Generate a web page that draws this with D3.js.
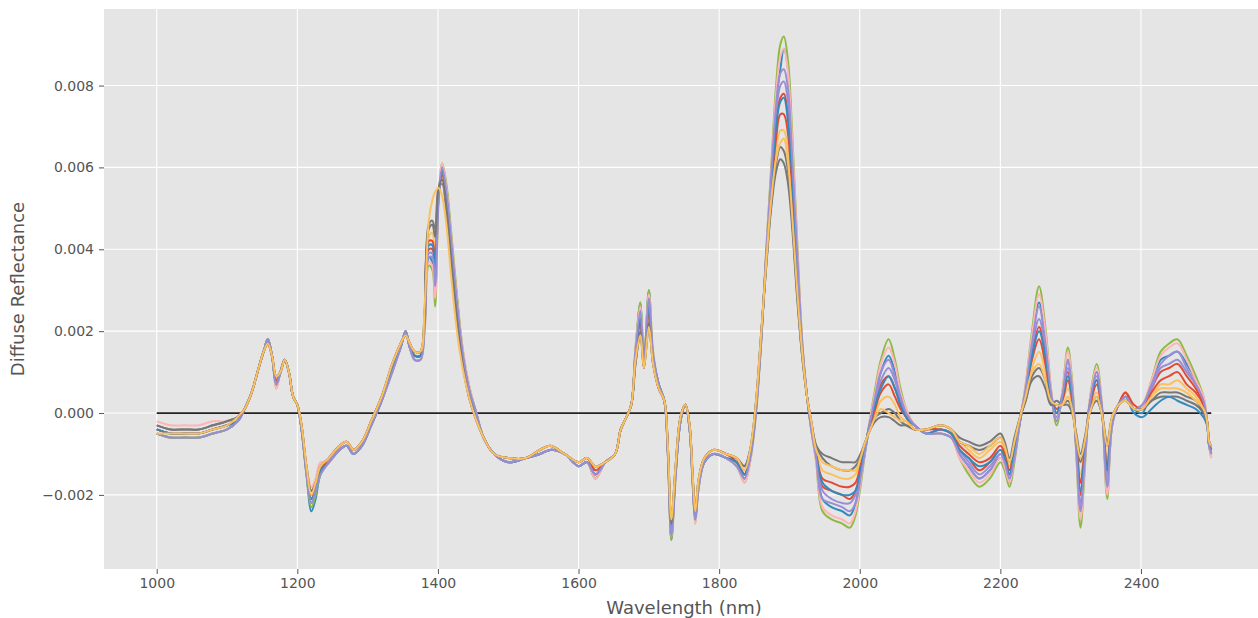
<!DOCTYPE html>
<html><head><meta charset="utf-8">
<script src="https://cdn.jsdelivr.net/npm/d3@7"></script>
<style>body{margin:0;background:#fff;overflow:hidden}</style>
</head><body>
<svg id="chart" width="1258" height="618"></svg>
<script>
// wavelength grid (nm)
const wavelengths = [
1000,1020,1040,1060,1080,1100,1115,1125,1135,1145,
1152,1158,1164,1170,1176,1182,1188,1194,1200,1206,
1213,1220,1226,1233,1245,1260,1270,1280,1292,1305,
1320,1335,1347,1354,1360,1367,1375,1381,1387,1392,
1396,1401,1406,1412,1419,1427,1435,1444,1453,1465,
1480,1500,1525,1545,1560,1580,1600,1612,1624,1638,
1652,1660,1668,1675,1681,1688,1693,1700,1706,1714,
1722,1727,1732,1738,1745,1752,1758,1762,1766,1771,
1779,1792,1810,1825,1836,1844,1852,1860,1867,1874,
1881,1887,1892,1898,1904,1911,1918,1925,1931,1938,
1947,1960,1975,1986,1994,2001,2008,2015,2022,2030,
2041,2050,2058,2066,2078,2095,2115,2130,2142,2155,
2170,2185,2200,2206,2213,2220,2228,2236,2245,2255,
2264,2272,2280,2288,2296,2302,2308,2314,2320,2327,
2337,2344,2352,2359,2368,2378,2390,2402,2415,2428,
2440,2452,2465,2478,2489,2494,2497,2500];

// spectra, in units of 1e-4 (diffuse reflectance)
const s0 = [-4,-5,-5,-5,-4,-3,-2,1,5,11, 15,18,14,7,10,13,10,4,2,-4, -14,-21,-19,-14,-12,-9,-8,-10,-8,-3, 3,11,16,20,16,14,14,22,40,40, 35,53,59,53,40,26,14,6,0,-6, -10,-12,-11,-10,-9,-10,-13,-12,-15,-12, -10,-4,-1,2,14,23,12,26,14,7, 3,-9,-29,-15,-2,2,-4,-15,-26,-17, -12,-10,-11,-12,-15,-11,0,19,38,56, 71,77,78,73,58,36,16,4,-3,-10, -18,-19,-20,-21,-19,-14,-8,-2,2,7, 9,6,2,-1,-3,-5,-4,-5,-9,-11, -14,-12,-9,-11,-15,-9,-2,5,15,21, 14,4,0,4,10,4,-8,-20,-10,2, 8,2,-15,-2,2,5,1,2,6,10, 11,12,9,6,2,-2,-8,-10];
const s1 = [-5,-6,-6,-6,-5,-4,-2,1,5,11, 15,18,14,7,10,13,10,4,2,-4, -15,-24,-21,-15,-12,-9,-8,-10,-8,-3, 3,10,16,20,16,13,13,21,38,37, 30,53,60,55,42,28,15,6,1,-6, -10,-12,-11,-10,-9,-10,-13,-12,-16,-12, -10,-4,-1,2,15,27,12,30,14,7, 3,-10,-31,-15,-2,2,-4,-16,-26,-18, -12,-10,-11,-13,-16,-11,0,18,39,58, 76,84,89,84,63,39,17,4,-4,-11, -21,-23,-24,-25,-22,-16,-9,-2,4,10, 14,10,4,0,-3,-5,-5,-6,-10,-13, -16,-14,-11,-13,-17,-11,-2,6,18,27, 18,5,-2,4,13,6,-9,-24,-12,2, 10,2,-18,-3,2,4,1,0,7,13, 14,15,12,8,3,-2,-8,-10];
const s2 = [-4,-5,-5,-5,-4,-3,-2,1,5,11, 15,18,14,7,10,13,10,4,2,-4, -14,-22,-19,-14,-12,-9,-8,-10,-8,-3, 3,11,16,20,16,14,14,22,39,39, 33,53,59,54,41,27,15,6,0,-6, -10,-12,-11,-10,-9,-10,-13,-12,-15,-12, -10,-4,-1,2,15,24,12,27,14,7, 3,-9,-29,-15,-2,2,-4,-15,-26,-17, -12,-10,-11,-12,-16,-11,0,19,39,57, 73,80,81,76,60,37,17,4,-3,-11, -19,-21,-22,-22,-20,-15,-8,-2,3,8, 11,8,3,0,-3,-5,-4,-5,-9,-12, -15,-13,-10,-12,-16,-10,-2,6,16,23, 16,5,-1,4,11,5,-8,-22,-11,2, 9,2,-16,-2,2,4,1,2,6,11, 12,13,10,7,3,-2,-8,-10];
const s3 = [-3,-4,-4,-4,-3,-2,-1,1,5,11, 15,17,14,9,10,13,10,4,2,-3, -13,-19,-17,-13,-11,-8,-7,-9,-7,-2, 4,12,17,19,17,15,15,25,46,47, 45,55,56,49,36,22,12,4,-1,-6, -10,-11,-11,-9,-8,-10,-12,-11,-13,-12, -10,-4,-1,2,12,19,11,21,12,6, 3,-8,-26,-13,-1,2,-3,-14,-24,-16, -11,-9,-10,-11,-13,-9,2,20,36,50, 59,62,61,56,45,28,14,4,-2,-8, -10,-11,-12,-12,-12,-10,-7,-4,-2,-1, -1,-2,-3,-3,-4,-4,-3,-4,-6,-7, -8,-7,-5,-7,-11,-6,-1,3,8,9, 6,2,3,2,2,0,-5,-10,-6,0, 3,0,-7,-1,2,3,1,1,3,4, 4,4,3,2,0,-2,-7,-8];
const s4 = [-5,-6,-6,-6,-5,-4,-2,1,5,11, 15,17,14,8,10,13,10,4,2,-3, -13,-20,-18,-13,-11,-8,-7,-9,-7,-2, 4,12,17,19,17,15,15,24,43,44, 40,54,57,51,38,24,13,5,-1,-6, -10,-11,-11,-9,-8,-10,-12,-11,-14,-12, -10,-4,-1,2,13,20,11,23,13,6, 3,-8,-27,-14,-1,2,-3,-14,-25,-16, -11,-9,-10,-11,-14,-10,1,20,37,53, 64,69,69,64,51,32,15,4,-2,-9, -14,-15,-16,-16,-15,-12,-8,-3,0,3, 4,2,-1,-2,-4,-4,-3,-4,-7,-9, -11,-9,-7,-9,-13,-8,-1,4,11,15, 10,3,1,3,6,2,-6,-15,-8,1, 5,1,-11,-1,2,3,1,1,4,7, 7,8,6,4,1,-2,-7,-9];
const s5 = [-5,-6,-6,-6,-5,-4,-2,1,5,11, 15,18,14,6,10,13,10,4,2,-4, -15,-23,-20,-15,-12,-9,-8,-10,-8,-3, 3,10,16,20,16,13,13,20,36,35, 26,52,61,56,44,29,16,7,1,-6, -10,-12,-11,-10,-9,-10,-13,-12,-16,-12, -10,-4,-1,2,16,27,12,30,15,7, 3,-10,-31,-16,-2,2,-4,-16,-27,-18, -12,-10,-11,-13,-17,-12,-1,18,40,60, 80,90,92,86,68,42,18,4,-4,-12, -24,-26,-27,-28,-25,-18,-9,-1,6,13, 18,13,6,1,-3,-5,-5,-6,-11,-15, -18,-16,-12,-14,-18,-12,-2,7,20,31, 21,6,-3,5,16,8,-10,-28,-14,3, 12,3,-21,-3,2,4,1,2,8,15, 17,18,14,9,4,-2,-8,-11];
const s6 = [-2,-3,-3,-3,-2,-2,-1,1,5,11, 15,18,14,6,10,13,10,4,2,-4, -13,-18,-16,-12,-12,-9,-8,-10,-8,-3, 3,10,16,20,16,13,13,20,37,36, 28,52,61,55,43,28,16,7,1,-6, -10,-12,-11,-10,-9,-10,-13,-12,-16,-12, -10,-4,-1,2,16,26,12,29,15,7, 3,-10,-30,-16,-2,2,-4,-16,-27,-18, -12,-10,-11,-13,-17,-12,-1,18,40,59, 78,87,89,83,66,41,18,4,-4,-12, -23,-25,-26,-27,-24,-17,-9,-1,5,12, 16,12,5,1,-3,-5,-5,-6,-11,-14, -17,-15,-11,-13,-17,-11,-2,7,19,29, 20,6,-2,5,15,7,-10,-26,-13,3, 11,3,-20,-3,2,4,1,2,8,14, 16,17,13,8,4,-2,-8,-11];
const s7 = [-4,-5,-5,-5,-4,-3,-1,1,5,11, 15,17,14,8,10,13,10,4,2,-3, -14,-21,-18,-14,-11,-8,-7,-9,-7,-2, 4,11,17,19,17,14,14,23,42,42, 37,54,58,52,39,25,14,5,0,-6, -10,-11,-11,-9,-8,-10,-12,-11,-14,-12, -10,-4,-1,2,14,22,11,25,13,6, 3,-9,-28,-14,-1,2,-3,-15,-25,-17, -11,-9,-10,-12,-15,-10,1,19,38,54, 67,73,73,68,54,34,16,4,-3,-10, -16,-17,-18,-18,-17,-13,-8,-3,1,5, 7,4,1,-1,-4,-4,-4,-5,-8,-10, -12,-11,-8,-10,-14,-8,-1,5,13,18, 12,4,1,3,8,3,-7,-17,-9,1, 7,1,-13,-2,2,5,2,1,5,8, 9,10,7,5,2,-2,-7,-9];
const s8 = [-4,-5,-5,-5,-4,-3,-2,1,5,11, 15,18,14,7,10,13,10,4,2,-4, -14,-21,-19,-14,-12,-9,-8,-10,-8,-3, 3,11,16,20,16,14,14,22,41,41, 35,53,59,53,40,26,14,6,0,-6, -10,-12,-11,-10,-9,-10,-13,-12,-15,-12, -10,-4,-1,2,14,23,12,26,14,7, 3,-9,-29,-15,-2,2,-4,-15,-26,-17, -12,-10,-11,-12,-15,-11,0,19,38,55, 70,76,77,71,57,35,16,4,-3,-10, -17,-19,-20,-20,-19,-14,-8,-2,2,6, 9,6,2,-1,-3,-5,-4,-5,-9,-11, -13,-12,-9,-11,-15,-9,-2,5,14,20, 14,4,0,4,9,4,-8,-19,-10,2, 8,2,-14,-2,2,4,0,-1,1,3, 4,3,2,1,-1,-3,-8,-9];
const s9 = [-5,-6,-6,-6,-5,-4,-2,1,5,11, 15,18,14,7,10,13,10,4,2,-4, -15,-22,-19,-15,-12,-9,-8,-10,-8,-3, 3,10,16,20,16,13,13,21,38,38, 31,53,60,54,42,27,15,6,1,-6, -10,-12,-11,-10,-9,-10,-13,-12,-15,-12, -10,-4,-1,2,15,25,12,28,14,7, 3,-10,-30,-15,-2,2,-4,-16,-26,-18, -12,-10,-11,-13,-16,-11,0,18,39,58, 75,83,84,79,62,39,17,4,-4,-11, -21,-22,-23,-24,-22,-16,-9,-2,4,10, 13,9,4,0,-3,-5,-5,-6,-10,-13, -16,-14,-10,-12,-16,-11,-2,6,17,26, 17,5,-2,4,13,6,-9,-24,-12,2, 10,2,-18,-3,2,4,1,2,7,12, 14,15,11,7,3,-2,-8,-10];
const s10 = [-3,-4,-4,-4,-3,-2,-1,1,5,11, 15,17,14,9,10,13,10,4,2,-3, -13,-19,-17,-13,-11,-8,-7,-9,-7,-2, 4,12,17,19,17,15,15,24,45,46, 43,55,57,50,37,23,12,4,-1,-6, -10,-11,-11,-9,-8,-10,-12,-11,-13,-12, -10,-4,-1,2,12,20,11,22,12,6, 3,-8,-27,-13,-1,2,-3,-14,-24,-16, -11,-9,-10,-11,-13,-9,2,20,36,51, 61,65,64,59,47,29,14,4,-2,-8, -11,-13,-14,-14,-13,-11,-7,-4,-1,0, 1,0,-2,-3,-4,-4,-3,-4,-7,-8, -9,-8,-6,-8,-12,-7,-1,3,9,11, 8,2,2,2,3,1,-6,-12,-7,0, 4,0,-8,-1,2,3,1,1,3,5, 5,5,4,3,0,-2,-7,-8];
const s11 = [-5,-5,-5,-5,-4,-3,-1,1,5,11, 15,17,14,9,10,13,10,4,2,-3, -13,-20,-17,-13,-11,-8,-7,-9,-7,-2, 4,12,17,19,17,15,15,26,47,52, 54,55,53,46,33,20,11,4,-1,-6, -10,-11,-11,-9,-8,-10,-12,-11,-13,-12, -10,-4,-1,2,13,19,11,21,12,6, 3,-8,-26,-13,-1,2,-3,-14,-24,-16, -11,-9,-10,-11,-14,-9,2,20,37,52, 62,66,67,61,48,30,15,4,-2,-9, -12,-13,-14,-14,-14,-11,-7,-4,-1,1, 0,-1,-2,-2,-4,-4,-3,-4,-7,-8, -10,-8,-6,-8,-12,-7,-1,4,10,12, 8,3,2,2,4,1,-6,-11,-7,0, 4,0,-8,-1,2,3,1,1,4,6, 6,6,5,3,1,-2,-7,-8];

const seriesValues = [s0,s1,s2,s3,s4,s5,s6,s7,s8,s9,s10,s11];
const seriesColors = ['#E24A33','#348ABD','#988ED5','#777777','#FBC15E','#8EBA42','#FFB5B8','#E24A33','#348ABD','#988ED5','#777777','#FBC15E'];
const valueUnit = 1e-4;
const xTicks = [1000,1200,1400,1600,1800,2000,2200,2400];
const yTicks = [-0.002,0,0.002,0.004,0.006,0.008];
const zeroLineSpan = [1000,2500];

const svg = d3.select('#chart');
const box = {left:104, top:9, right:1264, bottom:569};
const x = d3.scaleLinear().domain([925,2575]).range([box.left, box.right]);
const y = d3.scaleLinear().domain([-0.00381,0.00987]).range([box.bottom, box.top]);

svg.append('rect').attr('x',box.left).attr('y',box.top)
  .attr('width',box.right-box.left).attr('height',box.bottom-box.top).attr('fill','#E5E5E5');

const grid = svg.append('g');
grid.selectAll('.gx').data(xTicks).join('line')
  .attr('x1',d=>x(d)).attr('x2',d=>x(d)).attr('y1',box.top).attr('y2',box.bottom)
  .attr('stroke','#fff').attr('stroke-width',1.1);
grid.selectAll('.gy').data(yTicks).join('line')
  .attr('y1',d=>y(d)).attr('y2',d=>y(d)).attr('x1',box.left).attr('x2',box.right)
  .attr('stroke','#fff').attr('stroke-width',1.1);

svg.append('line').attr('x1',x(zeroLineSpan[0])).attr('x2',x(zeroLineSpan[1]))
  .attr('y1',y(0)).attr('y2',y(0)).attr('stroke','#222').attr('stroke-width',1.8);

const line = d3.line()
  .x((v,i)=>x(wavelengths[i]))
  .y(v=>y(v*valueUnit))
  .curve(d3.curveCatmullRom.alpha(0.5));

svg.append('g').selectAll('path').data(seriesValues).join('path')
  .attr('d',d=>line(d)).attr('fill','none')
  .attr('stroke',(d,i)=>seriesColors[i]).attr('stroke-width',2)
  .attr('stroke-linejoin','round');

const font = '"DejaVu Sans", sans-serif';
const xAxis = svg.append('g').attr('transform',`translate(0,${box.bottom})`)
  .call(d3.axisBottom(x).tickValues(xTicks).tickSize(5).tickPadding(4).tickFormat(d3.format('d')));
const yAxis = svg.append('g').attr('transform',`translate(${box.left},0)`)
  .call(d3.axisLeft(y).tickValues(yTicks).tickSize(5).tickPadding(5).tickFormat(d3.format('.3f')));
[xAxis,yAxis].forEach(a=>{
  a.select('.domain').remove();
  a.selectAll('line').attr('stroke','#555').attr('stroke-width',1);
  a.selectAll('text').attr('fill','#555').style('font-family',font).style('font-size','14px');
});

svg.append('text').attr('x',(box.left+box.right)/2).attr('y',614)
  .attr('text-anchor','middle').attr('fill','#555')
  .style('font-family',font).style('font-size','18px').text('Wavelength (nm)');
svg.append('text').attr('transform',`translate(24,${(box.top+box.bottom)/2}) rotate(-90)`)
  .attr('text-anchor','middle').attr('fill','#555')
  .style('font-family',font).style('font-size','18px').text('Diffuse Reflectance');
</script>
</body></html>
